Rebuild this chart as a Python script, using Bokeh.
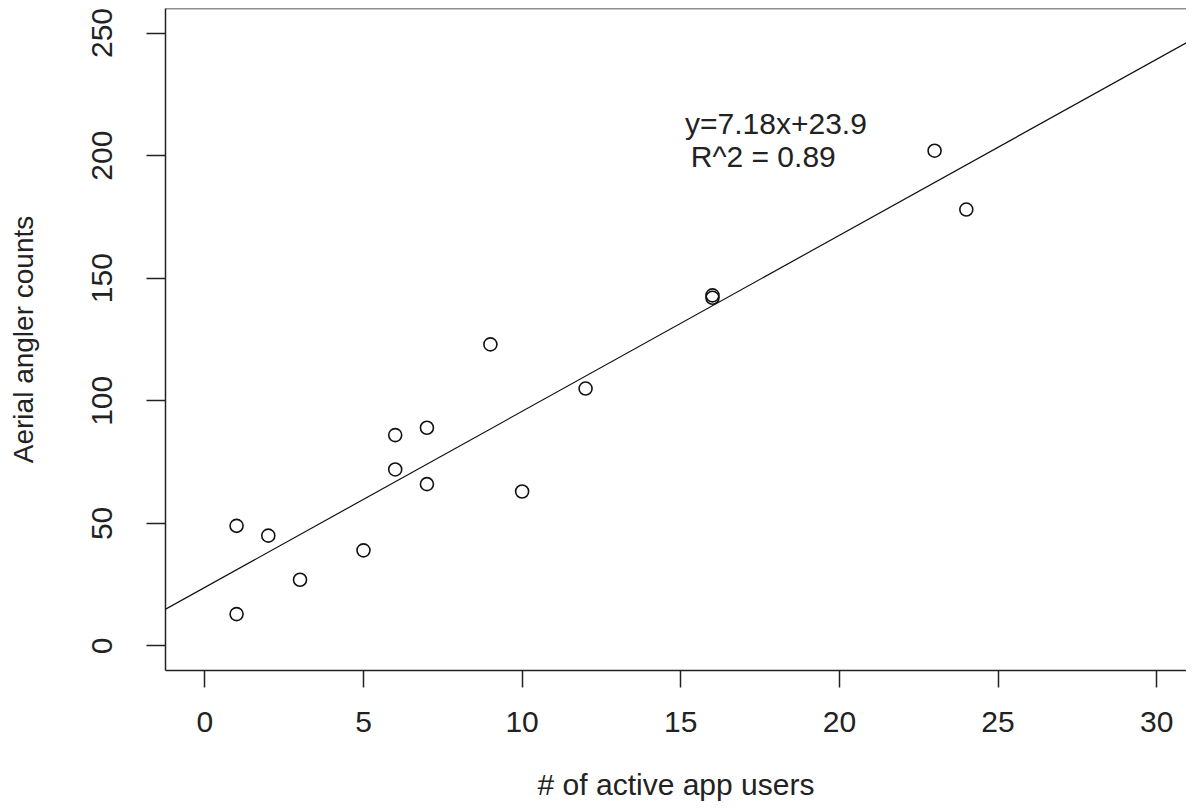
from bokeh.plotting import figure
from bokeh.models import FixedTicker, Span, Slope, Range1d
from bokeh.core.properties import value
from bokeh.embed import file_html
from bokeh.resources import INLINE

# data
app_users = [1, 1, 2, 3, 5, 6, 6, 7, 7, 9, 10, 12, 16, 16, 23, 24]
angler_counts = [49, 13, 45, 27, 39, 86, 72, 89, 66, 123, 63, 105, 142, 143, 202, 178]
slope_coef = 7.18
intercept_coef = 23.9
eq_label = "y=7.18x+23.9"
r2_label = "R^2 = 0.89"
x_ticks = [0, 5, 10, 15, 20, 25, 30]
y_ticks = [0, 50, 100, 150, 200, 250]

FONT = "Liberation Sans"

p = figure(width=1186, height=803, output_backend="svg", toolbar_location=None,
           x_range=Range1d(-1.24, 30.94), y_range=Range1d(-10, 260),
           min_border_left=165, min_border_bottom=133, min_border_top=8,
           min_border_right=0)
p.grid.visible = False
p.outline_line_color = None
p.background_fill_color = "white"
p.border_fill_color = "white"

# top border of the box
p.add_layout(Span(location=260, dimension="width", line_color="#222222", line_width=1.5))

p.add_layout(Slope(gradient=slope_coef, y_intercept=intercept_coef,
                   line_color="#111111", line_width=1.2))

p.scatter(app_users, angler_counts, size=13, marker="circle",
          fill_color=None, line_color="#111111", line_width=1.6)

p.text(x=[18.0], y=[213], text=[eq_label], text_font=value(FONT),
       text_font_size="30px", text_align="center", text_baseline="middle",
       text_color="#222222")
p.text(x=[17.6], y=[199.5], text=[r2_label], text_font=value(FONT),
       text_font_size="30px", text_align="center", text_baseline="middle",
       text_color="#222222")

for ax in (p.xaxis[0], p.yaxis[0]):
    ax.axis_line_color = "#222222"
    ax.axis_line_width = 1.5
    ax.major_tick_line_color = "#222222"
    ax.major_tick_line_width = 1.5
    ax.major_tick_in = 0
    ax.minor_tick_line_color = None
    ax.major_label_text_font = FONT
    ax.major_label_text_font_size = "30px"
    ax.major_label_text_color = "#222222"
    ax.axis_label_text_font = FONT
    ax.axis_label_text_font_style = "normal"
    ax.axis_label_text_color = "#222222"

p.xaxis[0].axis_label_text_font_size = "30px"
p.yaxis[0].axis_label_text_font_size = "28px"
p.xaxis[0].ticker = FixedTicker(ticks=x_ticks)
p.yaxis[0].ticker = FixedTicker(ticks=y_ticks)
p.xaxis[0].major_tick_out = 17
p.yaxis[0].major_tick_out = 19
p.xaxis[0].major_label_standoff = 24
p.yaxis[0].major_label_standoff = 34
p.yaxis[0].major_label_orientation = "vertical"
p.xaxis[0].axis_label = "# of active app users"
p.yaxis[0].axis_label = "Aerial angler counts"
p.xaxis[0].axis_label_standoff = 33
p.yaxis[0].axis_label_standoff = 51

open("out.html", "w").write(file_html(p, INLINE))
